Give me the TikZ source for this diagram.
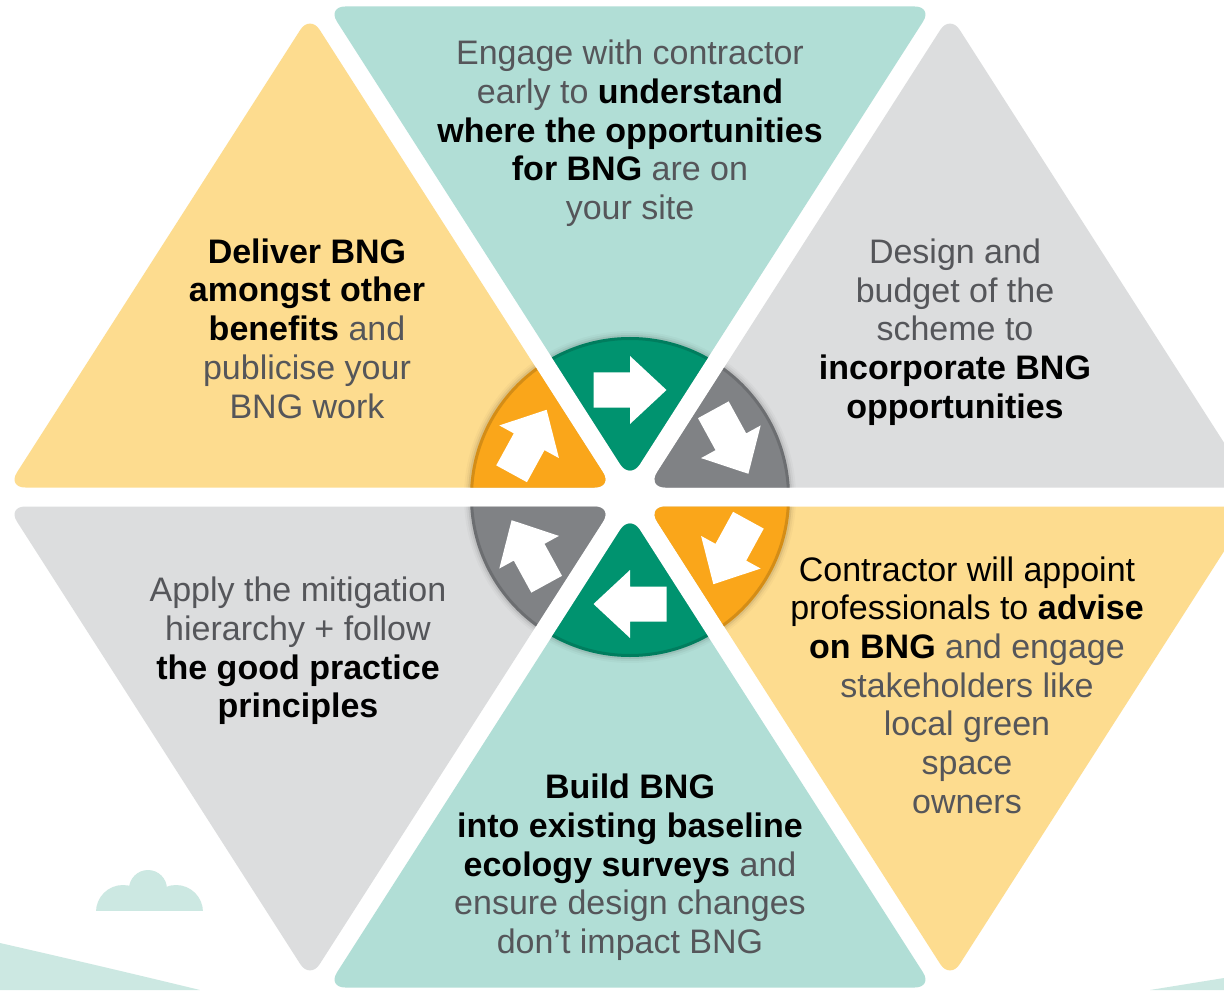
\documentclass[tikz,border=0pt]{standalone}
\usepackage{fontspec}
\setmainfont{Liberation Sans}
\usetikzlibrary{calc}
\definecolor{lteal}{HTML}{B1DED6}
\definecolor{lyellow}{HTML}{FDDC8F}
\definecolor{lgrey}{HTML}{DCDDDE}
\definecolor{dgreen}{HTML}{00936F}
\definecolor{dorange}{HTML}{FAA61A}
\definecolor{dgrey}{HTML}{808285}
\definecolor{tgrey}{HTML}{55565A}
\definecolor{cloudc}{HTML}{CCE8E2}
\newcommand{\tripath}[3]{($(#1)!0.5!(#2)$) -- (#2) -- (#3) -- (#1) -- cycle}
\newcommand{\arrowshape}{(-36.5,-17.5) -- (0,-17.5) -- (0,-34) -- (36.5,0) -- (0,34) -- (0,17.5) -- (-36.5,17.5) -- cycle}
\begin{document}
\begin{tikzpicture}[x=0.5pt,y=0.5pt,
  rc/.style={rounded corners=9pt},
  body/.style={font=\fontsize{17}{19.35}\selectfont, align=center, text=tgrey, inner sep=0pt},
  blockarrow/.style={fill=white}]
\useasboundingbox[fill=white] (-630,-493) rectangle (594,497);

% background hills and cloud
\fill[cloudc] (-630,-446) .. controls (-560,-462) and (-500,-476) .. (-430,-493) -- (-630,-493) -- cycle;
\fill[cloudc] (520,-493) -- (594,-481) -- (594,-493) -- cycle;
\begin{scope}
  \clip (-540,-413) rectangle (-420,-360);
  \fill[cloudc] (-507,-415) circle (27) (-454,-415) circle (27) (-482,-392) circle (19);
\end{scope}

% triangle corners
\coordinate (Ta) at (0,17.6);    \coordinate (Tb) at (302.7,490.5);  \coordinate (Tc) at (-302.7,490.5);
\coordinate (Ra) at (17.4,9.5);  \coordinate (Rb) at (622.7,9.5);    \coordinate (Rc) at (320,482.3);
\coordinate (Sa) at (17.4,-9.5); \coordinate (Sb) at (622.7,-9.5);   \coordinate (Sc) at (320,-482.3);
\coordinate (Ba) at (0,-17.6);   \coordinate (Bb) at (302.7,-490.5); \coordinate (Bc) at (-302.7,-490.5);
\coordinate (La) at (-17.4,-9.5);\coordinate (Lb) at (-622.7,-9.5);  \coordinate (Lc) at (-320,-482.3);
\coordinate (Ka) at (-17.4,9.5); \coordinate (Kb) at (-622.7,9.5);   \coordinate (Kc) at (-320,482.3);
\coordinate (O) at (0,0);

% light triangles
\fill[lteal,rc]   \tripath{Ta}{Tb}{Tc};
\fill[lgrey,rc]   \tripath{Ra}{Rb}{Rc};
\fill[lyellow,rc] \tripath{Sa}{Sb}{Sc};
\fill[lteal,rc]   \tripath{Ba}{Bb}{Bc};
\fill[lgrey,rc]   \tripath{La}{Lb}{Lc};
\fill[lyellow,rc] \tripath{Ka}{Kb}{Kc};

% dark wedges of the central circle, with soft shadow
\foreach \A/\B/\C/\col in {Ta/Tb/Tc/dgreen, Ra/Rb/Rc/dgrey, Sa/Sb/Sc/dorange, Ba/Bb/Bc/dgreen, La/Lb/Lc/dgrey, Ka/Kb/Kc/dorange}{
  \begin{scope}
    \clip[rc] \tripath{\A}{\B}{\C};
    \fill[black,opacity=0.025] (O) circle (166);
    \fill[black,opacity=0.04] (O) circle (164);
    \fill[black,opacity=0.07] (O) circle (162);
    \fill[\col] (O) circle (160);
    \draw[black,opacity=0.15,line width=1.5pt] (O) circle (158.5);
  \end{scope}
}

% white block arrows
\fill[blockarrow, shift={(90:107)}, rotate=0] \arrowshape;
\fill[blockarrow, shift={(28.7:115)}, rotate=-61.3] \arrowshape;
\fill[blockarrow, shift={(-28.7:115)}, rotate=-118.7] \arrowshape;
\fill[blockarrow, shift={(-90:107)}, rotate=180] \arrowshape;
\fill[blockarrow, shift={(208.7:115)}, rotate=118.7] \arrowshape;
\fill[blockarrow, shift={(151.3:115)}, rotate=61.3] \arrowshape;

% texts
\node[body] (top) at (0,363.5) {Engage with contractor\\early to \textcolor{black}{\textbf{understand}}\\\textcolor{black}{\textbf{where the opportunities}}\\\textcolor{black}{\textbf{for BNG}} are on\\your site};
\node[body] (tl) at (-323,168.5) {\textcolor{black}{\textbf{Deliver BNG}}\\\textcolor{black}{\textbf{amongst other}}\\\textcolor{black}{\textbf{benefits}} and\\publicise your\\BNG work};
\node[body] (tr) at (325,165) {Design and\\budget of the\\scheme to\\\textcolor{black}{\textbf{incorporate BNG}}\\\textcolor{black}{\textbf{opportunities}}};
\node[body] (bl) at (-332,-154) {Apply the mitigation\\hierarchy + follow\\\textcolor{black}{\textbf{the good practice}}\\\textcolor{black}{\textbf{principles}}};
\node[body] (br) at (337,-188) {\textcolor{black}{Contractor will appoint}\\\textcolor{black}{professionals to \textbf{advise}}\\\textcolor{black}{\textbf{on BNG}} and engage\\stakeholders like\\local green\\space\\owners};
\node[body] (bot) at (0,-370.5) {\textcolor{black}{\textbf{Build BNG}}\\\textcolor{black}{\textbf{into existing baseline}}\\\textcolor{black}{\textbf{ecology surveys}} and\\ensure design changes\\don’t impact BNG};
\end{tikzpicture}
\end{document}
